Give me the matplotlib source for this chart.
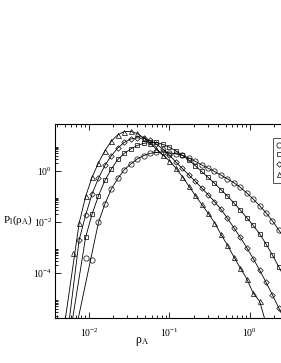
import numpy as np
import matplotlib
matplotlib.use("Agg")
import matplotlib.pyplot as plt
from matplotlib.ticker import FixedLocator, LogLocator, LogFormatterSciNotation, NullFormatter
from matplotlib.lines import Line2D

plt.rcParams['font.family'] = ['Liberation Serif', 'DejaVu Serif']
plt.rcParams['mathtext.fontset'] = 'stix'

# log10(rho_A) grid of the histogram bins
log_rho = [-2.20, -2.12, -2.04, -1.96, -1.88, -1.80, -1.72, -1.64, -1.56, -1.48,
           -1.40, -1.32, -1.24, -1.16, -1.08, -1.00, -0.92, -0.84, -0.76, -0.68,
           -0.60, -0.52, -0.44, -0.36, -0.28, -0.20, -0.12, -0.04, 0.04, 0.12,
           0.20, 0.28, 0.36, 0.44, 0.52]

# log10(P_l) per series (None = no point)
circ_logp = [None, None, -3.40, -3.49, -2.01, -1.29, -0.70, -0.29, 0.05, 0.27,
             0.47, 0.60, 0.69, 0.73, 0.74, 0.71, 0.67, 0.61, 0.51, 0.38,
             0.24, 0.11, -0.02, -0.16, -0.31, -0.46, -0.64, -0.86, -1.10, -1.36,
             -1.64, -1.96, -2.32, -2.70, -3.10]
squ_logp = [None, None, -2.60, -1.69, -0.97, -0.37, 0.08, 0.45, 0.69, 0.86,
            1.00, 1.08, 1.12, 1.12, 1.04, 0.93, 0.79, 0.62, 0.43, 0.21,
            -0.02, -0.25, -0.48, -0.73, -0.98, -1.25, -1.53, -1.83, -2.13, -2.46,
            -2.86, -3.30, -3.76, -4.25, None]
dia_logp = [None, -2.70, -1.73, -0.90, -0.28, 0.22, 0.60, 0.90, 1.12, 1.25,
            1.30, 1.28, 1.20, 1.05, 0.85, 0.62, 0.35, 0.10, -0.15, -0.40,
            -0.66, -0.93, -1.20, -1.50, -1.85, -2.22, -2.60, -3.00, -3.43, -3.88,
            -4.36, -4.86, -5.38, None, None]
tri_logp = [-3.20, -2.04, -1.00, -0.25, 0.32, 0.80, 1.17, 1.42, 1.54, 1.55,
            1.47, 1.30, 1.10, 0.85, 0.62, 0.40, 0.12, -0.22, -0.58, -0.95,
            -1.30, -1.65, -2.02, -2.48, -2.90, -3.36, -3.80, -4.22, -4.78, -5.10,
            None, None, None, None, None]

# where the fitted lines leave the frame (log10 rho, log10 P), and points left off the fit
circ_fit_ends = [(-2.13, -5.76), (0.60, -3.55)]
squ_fit_ends = [(-2.20, -5.76), (0.52, -4.75)]
dia_fit_ends = [(-2.24, -5.76), (0.44, -5.90)]
tri_fit_ends = [(-2.29, -5.76), (0.18, -5.76)]
circ_skip = [-2.04, -1.96]
tri_skip = [-2.20]

series = [
    ('o', circ_logp, circ_fit_ends, circ_skip),
    ('s', squ_logp, squ_fit_ends, []),
    ('D', dia_logp, dia_fit_ends, []),
    ('^', tri_logp, tri_fit_ends, tri_skip),
]
msizes = {'o': 3.8, 's': 3.2, 'D': 2.8, '^': 3.6}

fig = plt.figure(figsize=(2.81, 3.63), dpi=100)
W, H = 281.0, 363.0
ax = fig.add_axes([55 / W, 45 / H, 265 / W, 194 / H])

handles = []
for m, logp, ends, skip in series:
    xs = [x for x, y in zip(log_rho, logp) if y is not None]
    ys = [y for y in logp if y is not None]
    fx = [ends[0][0]] + [x for x, y in zip(xs, ys) if x not in skip] + [ends[1][0]]
    fy = [ends[0][1]] + [y for x, y in zip(xs, ys) if x not in skip] + [ends[1][1]]
    ax.plot(10 ** np.array(fx), 10 ** np.array(fy), '-', color='black', lw=0.6)
    sz = msizes[m]
    ax.plot(10 ** np.array(xs), 10 ** np.array(ys), m, ms=sz, mfc='none',
            mec='black', mew=0.5, ls='none')
    handles.append(Line2D([], [], marker=m, ms=sz, mfc='none', mec='black',
                          mew=0.5, ls='none'))

ax.set_xscale('log')
ax.set_yscale('log')
ax.set_xlim(10 ** -2.42, 10 ** 0.87)
ax.set_ylim(10 ** -5.76, 10 ** 1.84)

ax.xaxis.set_major_locator(LogLocator(base=10, numticks=20))
ax.xaxis.set_minor_locator(LogLocator(base=10, subs=np.arange(2, 10), numticks=20))
ax.xaxis.set_major_formatter(LogFormatterSciNotation())
ax.xaxis.set_minor_formatter(NullFormatter())
ax.yaxis.set_major_locator(FixedLocator([1e-6, 1e-4, 1e-2, 1e0, 1e2]))
ax.yaxis.set_minor_locator(FixedLocator([m * 10.0 ** k for k in (-6, -4, -2, 0) for m in range(2, 10)]))
ax.yaxis.set_major_formatter(LogFormatterSciNotation())
ax.yaxis.set_minor_formatter(NullFormatter())

ax.tick_params(which='both', direction='in', top=True, right=True, labelsize=7, width=0.6)
ax.tick_params(which='major', length=4)
ax.tick_params(axis='x', which='major', pad=6)
ax.tick_params(axis='y', which='major', pad=2)
ax.tick_params(which='minor', length=2)
for s in ax.spines.values():
    s.set_linewidth(0.8)

fig.text(3 / W, 1 - 220 / H, 'P$_{\\rm l}$(ρ$_{\\rm A}$)', fontsize=8, ha='left', va='center')
fig.text(142 / W, 1 - 342 / H, 'ρ$_{\\rm A}$', fontsize=8.5, ha='center', va='center')

leg = ax.legend(handles, ['', '', '', ''], loc='upper left',
                bbox_to_anchor=(273 / W, 1 - 138 / H), bbox_transform=fig.transFigure,
                frameon=True, fancybox=False, handlelength=0.6, handletextpad=0.4,
                borderpad=0.3, labelspacing=0.1, fontsize=7, borderaxespad=0)
leg.get_frame().set_edgecolor('black')
leg.get_frame().set_linewidth(0.6)

fig.savefig('out.png', dpi=100)
